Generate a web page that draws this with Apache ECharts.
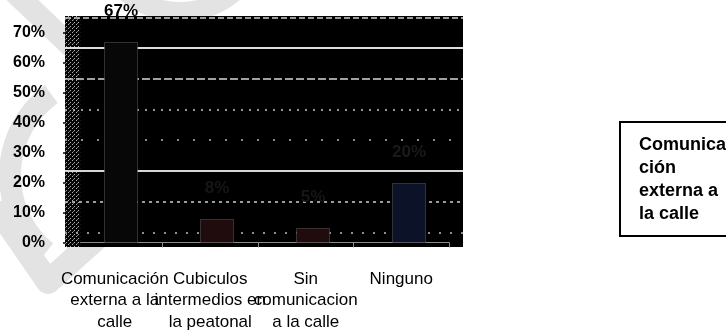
<!DOCTYPE html>
<html>
<head>
<meta charset="utf-8">
<script src="https://cdn.jsdelivr.net/npm/echarts@6/dist/echarts.min.js"></script>
<style>
  html, body { margin: 0; padding: 0; background: #fff; }
  #chart { width: 726px; height: 333px; }
</style>
</head>
<body>
<div id="chart"></div>
<script>
// Categories and the share of answers for each one
const categories = [
  'Comunicación externa a la calle',
  'Cubiculos intermedios en la peatonal',
  'Sin comunicacion a la calle',
  'Ninguno'
];
const categoryLabels = [
  'Comunicación\nexterna a la\ncalle',
  'Cubiculos\nintermedios en\nla peatonal',
  'Sin\ncomunicacion\na la calle',
  'Ninguno'
];
const values = [67, 8, 5, 20];
const seriesName = 'Comunicación externa a la calle';
const legendText = 'Comunica\nción\nexterna a\nla calle';

// Back-wall gridline values (percent) and their stroke look
const wallLines = [0, 10, 20, 30, 40, 50, 60, 70];
const wallLineTypes = [[2, 9], [3, 4], 'solid', [2, 14], [2, 6], [8, 3], 'solid', [6, 3]];
const wallLineColors = ['#bdbdbd', '#cfcfcf', '#d6d6d6', '#bdbdbd', '#c8c8c8', '#d6d6d6', '#dcdcdc', '#d0d0d0'];

const barColors = ['#070707', '#200b0d', '#200b0d', '#0c1329'];
const labelColors = ['#000000', '#161616', '#161616', '#1a1a1a'];

const font = "'Liberation Sans', Arial, sans-serif";

// dotted texture for the side wall
function dotPattern() {
  const c = document.createElement('canvas');
  c.width = 4; c.height = 4;
  const g = c.getContext('2d');
  g.fillStyle = '#050505';
  g.fillRect(0, 0, 4, 4);
  g.fillStyle = '#b0b0b0';
  g.fillRect(0, 0, 1, 1);
  g.fillRect(2, 2, 1, 1);
  g.fillStyle = '#707070';
  g.fillRect(1, 3, 1, 1);
  return { image: c, repeat: 'repeat' };
}

const chart = echarts.init(document.getElementById('chart'), null, { renderer: 'canvas' });

chart.setOption({
  animation: false,
  backgroundColor: '#ffffff',
  textStyle: { fontFamily: font },
  graphic: [
    // faint grey watermark strokes
    { type: 'line', z: -10, shape: { x1: 12, y1: -10, x2: 80, y2: 55 },
      style: { stroke: '#e3e3e3', lineWidth: 22 } },
    { type: 'circle', z: -10, shape: { cx: 180, cy: -70, r: 82 },
      style: { stroke: '#e3e3e3', lineWidth: 20, fill: 'none' } },
    { type: 'arc', z: -10, shape: { cx: 110, cy: 175, r: 100, startAngle: Math.PI * 0.72, endAngle: Math.PI * 1.3 },
      style: { stroke: '#e3e3e3', lineWidth: 22, fill: 'none' } },
    { type: 'polyline', z: -10, shape: { points: [[-5, 205], [48, 282], [108, 228]] },
      style: { stroke: '#e3e3e3', lineWidth: 24, fill: 'none', lineJoin: 'round' } }
  ],
  legend: {
    data: [seriesName],
    orient: 'vertical',
    left: 620,
    top: 122,
    padding: [12, 40, 10, 14],
    borderColor: '#000',
    borderWidth: 2,
    backgroundColor: '#fff',
    itemWidth: 0,
    itemHeight: 0,
    itemGap: 0,
    icon: 'rect',
    formatter: () => legendText,
    textStyle: { fontFamily: font, fontSize: 18, fontWeight: 'bold', color: '#000', lineHeight: 23 }
  },
  grid: [
    // back wall
    { left: 65, right: 263, top: 16, bottom: 86, show: true, backgroundColor: '#000', borderWidth: 0 },
    // bars
    { left: 73, right: 269, top: 33, bottom: 90 },
    // front axes
    { left: 67, right: 277, top: 33, bottom: 90 }
  ],
  xAxis: [
    { gridIndex: 0, type: 'value', min: 0, max: 1, show: false },
    { gridIndex: 1, type: 'category', data: categories, show: false },
    {
      gridIndex: 2, type: 'category', data: categories,
      axisLine: { show: true, lineStyle: { color: '#8a8a8a', width: 1 } },
      axisTick: { show: true, length: 5, lineStyle: { color: '#8a8a8a' } },
      axisLabel: {
        interval: 0, margin: 26, color: '#000', fontFamily: font, fontSize: 17, lineHeight: 21.5,
        formatter: (v, i) => categoryLabels[i]
      }
    }
  ],
  yAxis: [
    { gridIndex: 0, type: 'value', min: -4.8, max: 70.5, show: false },
    { gridIndex: 1, type: 'value', min: 0, max: 70, show: false },
    {
      gridIndex: 2, type: 'value', min: 0, max: 70, interval: 10,
      axisLine: { show: false },
      axisTick: { show: true, length: 4, lineStyle: { color: '#000', width: 1.5 } },
      splitLine: { show: false },
      axisLabel: { margin: 22, color: '#000', fontFamily: font, fontSize: 16, fontWeight: 'bold', formatter: '{value}%' }
    }
  ],
  series: [
    {
      // back-wall decoration: gridlines and the dotted side wall
      type: 'line',
      xAxisIndex: 0, yAxisIndex: 0,
      data: [],
      silent: true,
      markLine: {
        silent: true,
        symbol: 'none',
        z: 1,
        label: { show: false },
        data: wallLines.map((v, i) => ({
          yAxis: v,
          lineStyle: { color: wallLineColors[i], type: wallLineTypes[i], width: i === 2 || i === 6 ? 2 : 1.5 }
        }))
      },
      markArea: {
        silent: true,
        z: 1,
        itemStyle: { color: dotPattern() },
        data: [[{ xAxis: 0, yAxis: -4.8 }, { xAxis: 0.038, yAxis: 70.5 }]]
      }
    },
    {
      name: seriesName,
      type: 'bar',
      xAxisIndex: 1, yAxisIndex: 1,
      z: 3,
      barWidth: 34,
      data: values.map((v, i) => ({
        value: v,
        itemStyle: { color: barColors[i], borderColor: '#5e5e5e', borderType: 'dotted', borderWidth: 1 },
        label: { color: labelColors[i] }
      })),
      label: {
        show: true,
        position: 'top',
        distance: 22,
        fontFamily: font,
        fontSize: 17,
        fontWeight: 'bold',
        formatter: '{c}%'
      }
    }
  ]
});
</script>
</body>
</html>
